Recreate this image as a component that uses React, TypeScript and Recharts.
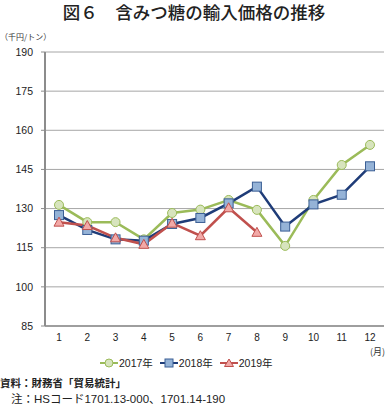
import React from "react";
import { LineChart, Line, XAxis, YAxis, CartesianGrid } from "recharts";

const months = ["1", "2", "3", "4", "5", "6", "7", "8", "9", "10", "11", "12"];
const y2017 = [131.4, 124.8, 124.8, 118.2, 128.3, 129.6, 133.3, 129.5, 115.7, 133.3, 146.7, 154.4];
const y2018 = [127.5, 121.8, 118.2, 117.7, 124.1, 126.4, 132.0, 138.4, 123.1, 131.6, 135.3, 146.2];
const y2019: (number | null)[] = [124.8, 123.5, 118.8, 116.3, 124.4, 119.6, 130.3, 120.9, null, null, null, null];
const yTicks = [85, 100, 115, 130, 145, 160, 175, 190];
const boundaryTicks = [0, 1, 2, 3, 4, 5, 6, 7, 8, 9, 10, 11, 12];
const seriesNames = ["2017年", "2018年", "2019年"];

const data = months.map((m, i) => ({
  m,
  a: y2017[i],
  b: y2018[i],
  c: y2019[i],
}));

const FONT = '"Liberation Sans", "Noto Sans CJK JP", sans-serif';

const GREEN = "#9BBB59";
const GREEN_FILL = "#D7E4BD";
const BLUE = "#1F3C78";
const BLUE_FILL = "#95B3D7";
const BLUE_EDGE = "#3B5F95";
const RED = "#C0504D";
const RED_FILL = "#F2A9A7";

const circleDot = (p: any) => {
  if (p.cx == null || p.cy == null || p.value == null) return <g key={p.key} />;
  return <circle key={p.key} cx={p.cx} cy={p.cy} r={4.5} fill={GREEN_FILL} stroke={GREEN} strokeWidth={1} />;
};
const squareDot = (p: any) => {
  if (p.cx == null || p.cy == null || p.value == null) return <g key={p.key} />;
  return <rect key={p.key} x={p.cx - 4.5} y={p.cy - 4.5} width={9} height={9} fill={BLUE_FILL} stroke={BLUE_EDGE} strokeWidth={1} />;
};
const triDot = (p: any) => {
  if (p.cx == null || p.cy == null || p.value == null) return <g key={p.key} />;
  const s = 5;
  return (
    <polygon
      key={p.key}
      points={`${p.cx},${p.cy - s} ${p.cx + s},${p.cy + s * 0.8} ${p.cx - s},${p.cy + s * 0.8}`}
      fill={RED_FILL}
      stroke={RED}
      strokeWidth={1}
    />
  );
};

const LegendIcon = ({ kind }: { kind: number }) => {
  const color = kind === 0 ? GREEN : kind === 1 ? BLUE : RED;
  return (
    <svg width={18} height={10} style={{ display: "block" }}>
      <line x1={0} y1={5} x2={18} y2={5} stroke={color} strokeWidth={2} />
      {kind === 0 && <circle cx={9} cy={5} r={4} fill={GREEN_FILL} stroke={GREEN} strokeWidth={1} />}
      {kind === 1 && <rect x={5} y={1} width={8} height={8} fill={BLUE_FILL} stroke={BLUE_EDGE} strokeWidth={1} />}
      {kind === 2 && <polygon points="9,1 13.5,8.5 4.5,8.5" fill={RED_FILL} stroke={RED} strokeWidth={1} />}
    </svg>
  );
};

export default function App() {
  return (
    <div
      style={{
        position: "absolute",
        left: 0,
        top: 0,
        width: 388,
        height: 405,
        background: "#fff",
        fontFamily: FONT,
        color: "#222",
        overflow: "hidden",
      }}
    >
      <div
        style={{
          position: "absolute",
          left: 0,
          top: 1,
          width: 388,
          textAlign: "center",
          fontSize: 17.5,
          lineHeight: "22px",
          fontWeight: 500,
          fontFamily: '"Noto Sans CJK JP", sans-serif',
          color: "#222",
        }}
      >
        図６　含みつ糖の輸入価格の推移
      </div>
      <div
        style={{
          position: "absolute",
          left: 0,
          top: 31,
          fontSize: 8,
          lineHeight: "12px",
          fontFamily: '"Noto Sans CJK JP", sans-serif',
          color: "#333",
        }}
      >
        （千円/トン）
      </div>
      <div style={{ position: "absolute", left: 0, top: 0 }}>
        <LineChart width={388} height={405} data={data} margin={{ top: 52, right: 4, left: 0, bottom: 59 }}>
          <CartesianGrid horizontal vertical={false} stroke="#a6a6a6" strokeWidth={1} />
          <XAxis
            xAxisId={0}
            type="number"
            dataKey="idx"
            domain={[0, 12]}
            ticks={boundaryTicks}
            allowDataOverflow
            height={0}
            axisLine={false}
            tick={false}
            tickLine={{ stroke: "#8c8c8c" }}
            tickSize={4}
          />
          <XAxis
            xAxisId="m"
            dataKey="m"
            type="category"
            scale="point"
            padding={{ left: 14, right: 14 }}
            height={20}
            axisLine={{ stroke: "#8c8c8c", strokeWidth: 1.5 }}
            tickLine={false}
            tick={{ fontSize: 10, fill: "#222", fontFamily: FONT }}
            interval={0}
          />
          <YAxis
            domain={[85, 190]}
            ticks={yTicks}
            width={45}
            interval={0}
            axisLine={{ stroke: "#8c8c8c", strokeWidth: 2 }}
            tickLine={{ stroke: "#8c8c8c" }}
            tickSize={4}
            tickMargin={8}
            tick={{ fontSize: 10.5, fill: "#222", fontFamily: FONT }}
          />
          <Line
            xAxisId="m"
            dataKey="a"
            name={seriesNames[0]}
            stroke={GREEN}
            strokeWidth={2.5}
            dot={circleDot}
            isAnimationActive={false}
          />
          <Line
            xAxisId="m"
            dataKey="b"
            name={seriesNames[1]}
            stroke={BLUE}
            strokeWidth={2.5}
            dot={squareDot}
            isAnimationActive={false}
          />
          <Line
            xAxisId="m"
            dataKey="c"
            name={seriesNames[2]}
            stroke={RED}
            strokeWidth={2.5}
            dot={triDot}
            isAnimationActive={false}
          />
        </LineChart>
      </div>
      <div
        style={{
          position: "absolute",
          left: 370,
          top: 345,
          fontSize: 9,
          lineHeight: "14px",
          fontFamily: '"Noto Sans CJK JP", sans-serif',
          color: "#333",
          whiteSpace: "nowrap",
        }}
      >
        (月)
      </div>
      <div
        style={{
          position: "absolute",
          left: 100,
          top: 356,
          display: "flex",
          alignItems: "center",
          fontSize: 10.5,
          lineHeight: "14px",
          color: "#222",
        }}
      >
        {seriesNames.map((n, i) => (
          <div key={n} style={{ display: "flex", alignItems: "center", marginRight: 7 }}>
            <LegendIcon kind={i} />
            <span style={{ marginLeft: 1 }}>{n}</span>
          </div>
        ))}
      </div>
      <div
        style={{
          position: "absolute",
          left: 0,
          top: 376,
          fontSize: 10.5,
          lineHeight: "14px",
          fontWeight: "bold",
          fontFamily: '"Noto Sans CJK JP", sans-serif',
          color: "#222",
          whiteSpace: "nowrap",
        }}
      >
        資料：財務省「貿易統計」
      </div>
      <div
        style={{
          position: "absolute",
          left: 11,
          top: 392,
          fontSize: 11.5,
          lineHeight: "14px",
          fontFamily: FONT,
          color: "#222",
          whiteSpace: "nowrap",
        }}
      >
        注：HSコード1701.13-000、1701.14-190
      </div>
    </div>
  );
}
